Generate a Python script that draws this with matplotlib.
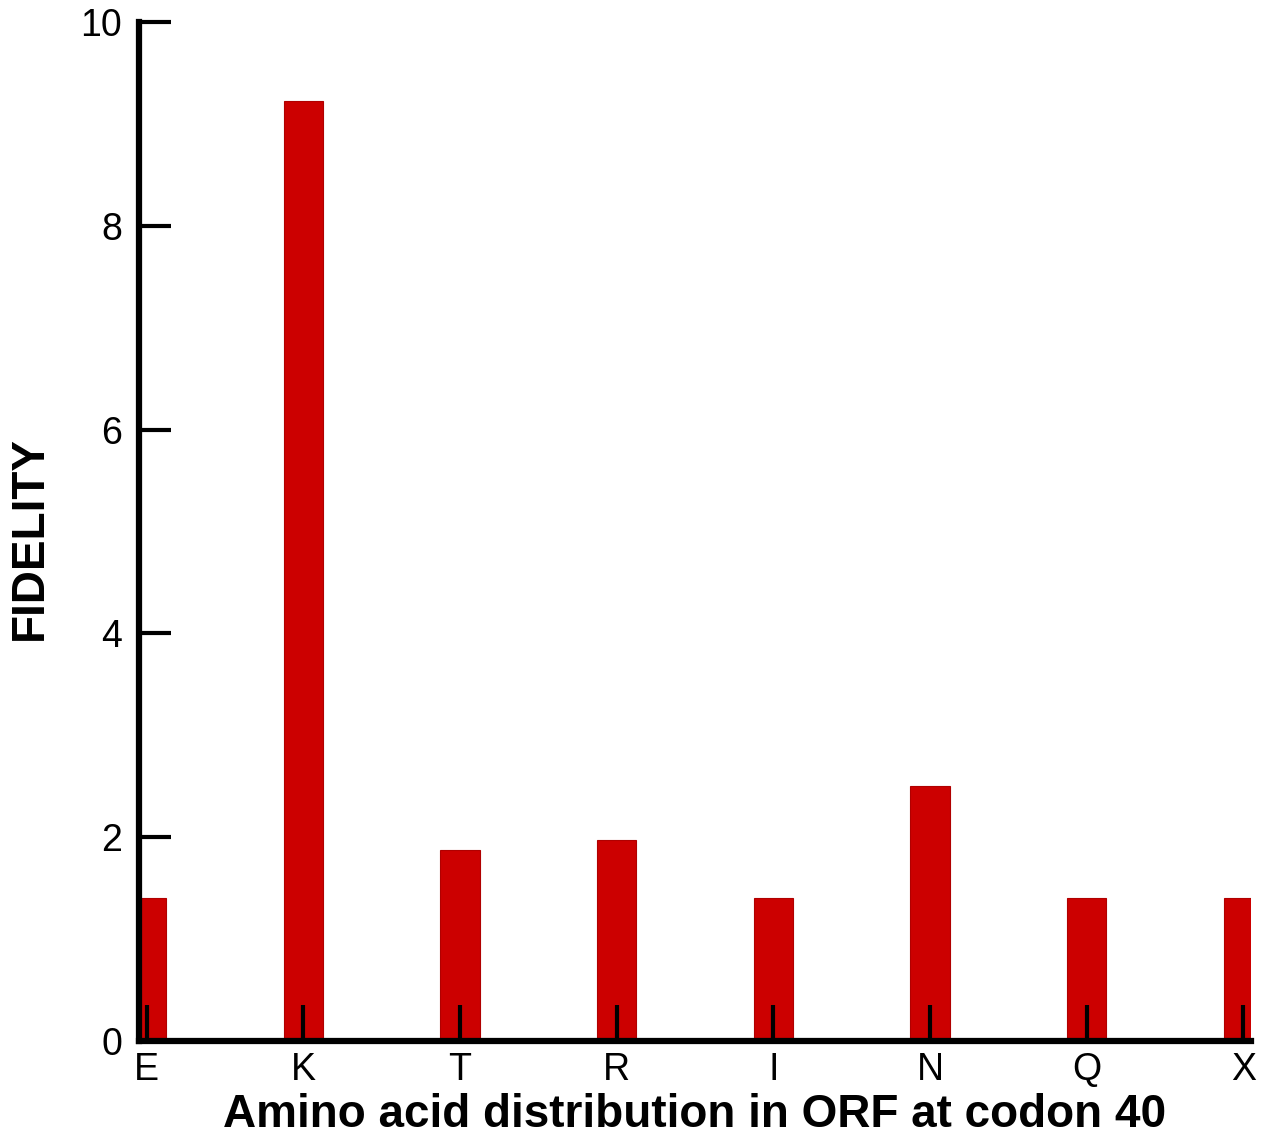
import numpy as np
import matplotlib.pyplot as plt

plt.rcParams['font.family'] = ['Liberation Sans', 'DejaVu Sans']

# Fidelity per amino acid at codon 40
aminoAcids = ['E', 'K', 'T', 'R', 'I', 'N', 'Q', 'X']
fidelity = [1.40, 9.22, 1.87, 1.97, 1.40, 2.50, 1.40, 1.40]
yTicks = [0, 2, 4, 6, 8, 10]

fig = plt.figure(figsize=(12.77, 11.37), dpi=100)
ax = fig.add_axes([0.1088, 0.0844, 0.8709, 0.8963])

xPos = np.arange(len(aminoAcids))
ax.bar(xPos, fidelity, width=0.25, color='#cc0000', edgecolor='#b00000',
       linewidth=0.8, zorder=1)

ax.set_xlim(-0.05, 7.05)
ax.set_ylim(0, 10)
ax.set_xticks(xPos)
ax.set_xticklabels(aminoAcids)
ax.set_yticks(yTicks)

for side in ['top', 'right']:
    ax.spines[side].set_visible(False)
for side in ['left', 'bottom']:
    ax.spines[side].set_linewidth(4.5)
    ax.spines[side].set_zorder(3)

ax.tick_params(axis='y', direction='in', length=23, width=3, pad=12,
               labelsize=27)
ax.tick_params(axis='x', direction='in', length=26, width=3, pad=8,
               labelsize=27)

ax.set_xlabel('Amino acid distribution in ORF at codon 40', fontsize=33,
              fontweight='bold')
ax.xaxis.set_label_coords(0.5, -0.051)
ax.set_ylabel('FIDELITY', fontsize=33, fontweight='bold')
ax.yaxis.set_label_coords(-0.078, 0.494)

fig.savefig('out.png', dpi=100)
